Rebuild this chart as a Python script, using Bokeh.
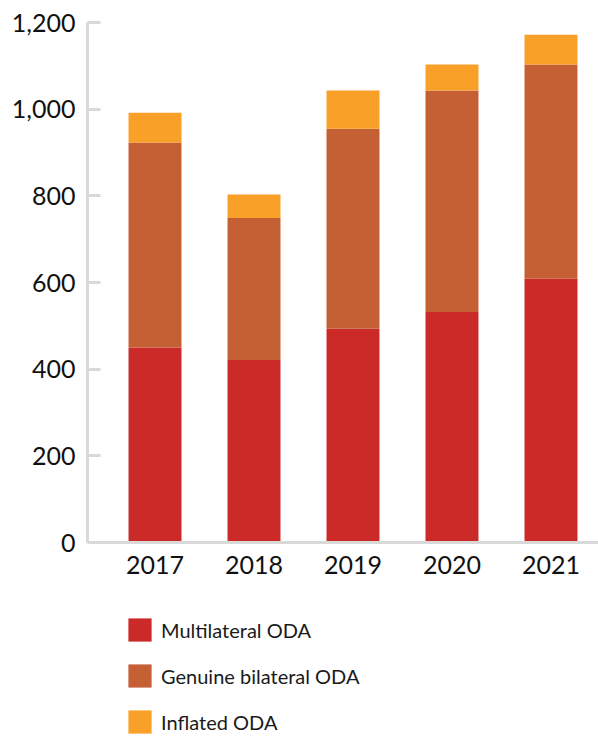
from bokeh.plotting import figure
from bokeh.models import Range1d, FixedTicker, NumeralTickFormatter, Legend, ColumnDataSource
from bokeh.layouts import column
from bokeh.embed import file_html
from bokeh.resources import INLINE

years = [2017, 2018, 2019, 2020, 2021]
multilateral = [450, 421, 493, 532, 609]
bilateral = [473, 328, 462, 511, 494]
inflated = [69, 54, 88, 60, 69]
series = ["Multilateral ODA", "Genuine bilateral ODA", "Inflated ODA"]
colors = ["#cc2929", "#c56035", "#f9a029"]
y_ticks = [0, 200, 400, 600, 800, 1000, 1200]

FONT = "Lato"

src = ColumnDataSource(dict(year=years, m=multilateral, b=bilateral, i=inflated))

p = figure(width=598, height=590, output_backend="svg", toolbar_location=None,
           x_range=Range1d(2016.318, 2021.48), y_range=Range1d(0, 1200),
           min_border_left=87, min_border_right=0, min_border_top=22,
           min_border_bottom=48)

rs = p.vbar_stack(["m", "b", "i"], x="year", width=0.535, color=colors, source=src,
                  line_width=0)

p.xgrid.visible = False
p.ygrid.visible = False
p.outline_line_color = None

for ax in (p.xaxis[0], p.yaxis[0]):
    ax.axis_line_color = "#d9d9d9"
    ax.axis_line_width = 3
    ax.major_tick_line_color = "#d9d9d9"
    ax.major_tick_line_width = 3
    ax.minor_tick_line_color = None
    ax.major_label_text_font = FONT
    ax.major_label_text_font_size = "25px"
    ax.major_label_text_color = "#111111"

p.yaxis[0].ticker = FixedTicker(ticks=y_ticks)
p.yaxis[0].formatter = NumeralTickFormatter(format="0,0")
p.yaxis[0].major_tick_in = 13
p.yaxis[0].major_tick_out = 0
p.yaxis[0].major_label_standoff = 12

p.xaxis[0].ticker = FixedTicker(ticks=years)
p.xaxis[0].major_tick_line_color = None
p.xaxis[0].major_label_standoff = 7

# legend panel below the chart
lg = figure(width=598, height=146, output_backend="svg", toolbar_location=None,
            x_range=Range1d(0, 1), y_range=Range1d(0, 1), min_border=0,
            min_border_left=87)
lg.axis.visible = False
lg.grid.visible = False
lg.outline_line_color = None
lrs = [lg.vbar(x=[-10], top=[-10], width=0.1, color=c, line_width=0) for c in colors]

legend = Legend(items=[(series[k], [lrs[k]]) for k in range(3)],
                orientation="vertical", location=(38, 0),
                glyph_width=29, glyph_height=29, label_height=29,
                spacing=17, padding=0, margin=0,
                label_text_font=FONT, label_text_font_size="20px",
                label_text_color="#1a1a1a", label_standoff=7,
                border_line_color=None, background_fill_alpha=0)
lg.add_layout(legend)

open("out.html", "w").write(file_html(column(p, lg, spacing=0), INLINE))
